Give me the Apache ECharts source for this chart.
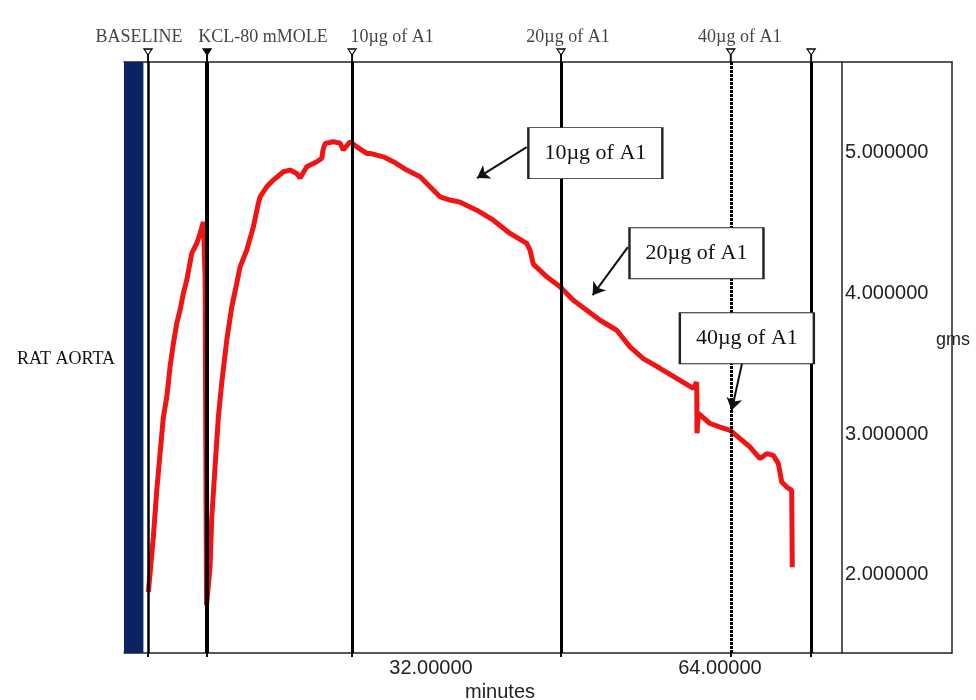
<!DOCTYPE html>
<html><head><meta charset="utf-8">
<script src="https://cdn.jsdelivr.net/npm/echarts@6/dist/echarts.min.js"></script>
<style>html,body{margin:0;padding:0;background:#fff}#c{width:976px;height:700px}</style>
</head><body><div id="c"></div>
<script>
// ---- data ----
const eventTimes = [0.66, 7.2, 23.26, 46.4, 65.2, 74.1];
const eventLabels = ['BASELINE', 'KCL-80 mMOLE', '10\u00b5g of A1', '20\u00b5g of A1', '40\u00b5g of A1', ''];
const curveT = [0.70,1.25,1.63,1.99,2.36,2.74,3.10,3.47,3.84,4.21,4.57,4.95,5.50,6.06,6.42,6.79,6.98,7.14,
  7.34,7.53,7.72,8.08,8.45,8.82,9.38,9.93,10.49,10.85,11.59,12.33,12.88,13.07,13.81,14.54,15.65,16.39,17.13,17.50,
  18.24,19.35,19.90,20.04,20.27,21.18,21.93,22.29,23.03,23.78,24.88,25.25,26.72,27.83,29.31,30.79,31.89,33.00,34.11,
  35.22,37.07,38.90,40.75,42.60,42.97,43.33,44.82,46.29,47.76,49.25,50.72,52.57,54.04,55.51,57.36,59.21,61.05,61.43,
  61.46,61.61,62.90,64.01,65.12,66.22,67.33,68.44,69.18,69.91,70.47,70.84,71.40,71.95,72.01];
const curveV = [1.879,2.269,2.601,2.861,3.121,3.263,3.477,3.643,3.785,3.879,3.998,4.092,4.282,4.353,4.424,4.506,4.114,1.784,
  1.784,2.054,2.409,2.764,3.119,3.361,3.666,3.901,4.071,4.185,4.305,4.471,4.639,4.684,4.755,4.803,4.862,4.874,4.850,4.817,
  4.897,4.933,4.957,5.016,5.063,5.075,5.065,5.016,5.075,5.039,4.992,4.992,4.968,4.933,4.874,4.826,4.755,4.684,4.661,
  4.646,4.589,4.518,4.424,4.353,4.305,4.206,4.116,4.045,3.950,3.879,3.808,3.737,3.619,3.536,3.467,3.396,3.325,3.368,
  3.006,3.146,3.075,3.050,3.027,2.968,2.908,2.826,2.861,2.849,2.790,2.660,2.624,2.601,2.054];
const xTickValues = [32, 64];
const yTickValues = [2, 3, 4, 5];
const noteTexts = ['10\u00b5g of A1', '20\u00b5g of A1', '40\u00b5g of A1'];
const noteT = [50.2, 61.4, 66.98];
const noteV = [4.994, 4.284, 3.680];
const arrowFromT = [42.6, 53.8, 66.45];
const arrowFromV = [5.037, 4.327, 3.503];
const arrowToT = [37.1, 49.9, 65.3];
const arrowToV = [4.817, 3.986, 3.169];

// ---- styles ----
const X_MIN = -2, X_MAX = 89.7, Y_MIN = 1.446, Y_MAX = 5.641;
const serif = '"Liberation Serif", "Times New Roman", serif';
const sans = '"Liberation Sans", Arial, sans-serif';
const eventLineStyles = [
  {width: 2.5, type: 'solid'}, {width: 4, type: 'solid'}, {width: 3, type: 'solid'},
  {width: 3, type: 'solid'}, {width: 3, type: [3, 1]}, {width: 3, type: 'solid'}];
const labelDx = [-9, 56, 40, 7, 9, 0];
const markerPath = 'path://M0,0L8,0L4,6ZM3.5,6L4.5,6L4.5,13L3.5,13Z';

const chart = echarts.init(document.getElementById('c'), null, {renderer: 'canvas'});
const option = {
  animation: false,
  backgroundColor: '#fff',
  title: [
    {text: 'RAT AORTA', left: 12, top: 345,
      textStyle: {fontFamily: serif, fontSize: 18, fontWeight: 'normal', color: '#111'}},
    {text: 'gms', left: 931, top: 326,
      textStyle: {fontFamily: sans, fontSize: 18, fontWeight: 'normal', color: '#222'}}
  ],
  grid: {left: 124, right: 24, top: 62, bottom: 47, outerBoundsMode: 'none', containLabel: false},
  xAxis: [{
    type: 'value', min: X_MIN, max: X_MAX, position: 'bottom',
    name: 'minutes', nameLocation: 'middle', nameGap: 25,
    nameTextStyle: {fontFamily: sans, fontSize: 20, color: '#222', padding: [0, 76, 0, 0]},
    axisLine: {show: true, onZero: false, lineStyle: {color: '#222', width: 1.5}},
    axisTick: {show: true, customValues: eventTimes, length: 4, lineStyle: {color: '#111', width: 2}},
    axisLabel: {customValues: xTickValues, formatter: v => v.toFixed(5), margin: 5,
      fontFamily: sans, fontSize: 20, color: '#222'},
    splitLine: {show: false}
  }, {
    type: 'value', min: X_MIN, max: X_MAX, position: 'top',
    axisLine: {show: true, onZero: false, lineStyle: {color: '#222', width: 1.5}},
    axisTick: {show: false}, axisLabel: {show: false}, splitLine: {show: false}
  }],
  yAxis: [{
    type: 'value', min: Y_MIN, max: Y_MAX, position: 'right', offset: -110,
    axisLine: {show: true, onZero: false, lineStyle: {color: '#222', width: 1.5}},
    axisTick: {show: false},
    axisLabel: {customValues: yTickValues, formatter: v => v.toFixed(6), margin: 3,
      fontFamily: sans, fontSize: 20, color: '#222'},
    splitLine: {show: false}
  }, {
    type: 'value', min: 0, max: 1, position: 'right', offset: 0,
    axisLine: {show: true, onZero: false, lineStyle: {color: '#222', width: 1.5}},
    axisTick: {show: false}, axisLabel: {show: false}, splitLine: {show: false}
  }],
  series: [
    {
      name: 'events', type: 'line', data: [], z: 1, silent: true,
      markArea: {silent: true, itemStyle: {color: '#0b2461'},
        data: [[{xAxis: X_MIN}, {xAxis: 0.15}]]},
      markLine: {silent: true, symbol: ['none', 'none'], label: {show: false},
        data: eventTimes.map((t, i) => ({xAxis: t, lineStyle: Object.assign({color: '#000'}, eventLineStyles[i])}))}
    },
    {
      name: 'force', type: 'line', z: 3, showSymbol: false, silent: true,
      data: curveT.map((t, i) => [t, curveV[i]]),
      lineStyle: {color: '#f01414', width: 5}
    },
    {
      name: 'markers', type: 'scatter', z: 4, clip: false, silent: true,
      symbol: markerPath, symbolSize: [8, 13], symbolOffset: [0, -6.5],
      itemStyle: {color: '#fff', borderColor: '#000', borderWidth: 1.2, opacity: 1},
      data: eventTimes.map((t, i) => ({value: [t, Y_MAX], itemStyle: i === 1 ? {color: '#000'} : undefined}))
    },
    {
      name: 'eventText', type: 'scatter', z: 5, clip: false, silent: true,
      symbolSize: 1, itemStyle: {color: 'rgba(0,0,0,0)'},
      data: eventTimes.map((t, i) => ({value: [t, Y_MAX],
        label: {show: true, position: 'inside', offset: [labelDx[i], -25], formatter: eventLabels[i],
          fontFamily: serif, fontSize: 18, color: '#111'}}))
    },
    {
      name: 'notes', type: 'scatter', z: 6, clip: false, silent: true,
      symbol: 'rect', symbolSize: [134, 51],
      itemStyle: {color: '#fff', borderColor: '#222', borderWidth: 1.5, opacity: 1},
      label: {show: true, position: 'inside', fontFamily: serif, fontSize: 22, color: '#111',
        formatter: p => noteTexts[p.dataIndex]},
      data: noteT.map((t, i) => [t, noteV[i]])
    },
    {
      name: 'arrows', type: 'line', data: [], z: 7, silent: true,
      markLine: {silent: true, symbol: ['none', 'arrow'], symbolSize: 12, label: {show: false},
        lineStyle: {color: '#111', width: 2, type: 'solid'},
        data: arrowFromT.map((t, i) => [{coord: [t, arrowFromV[i]]}, {coord: [arrowToT[i], arrowToV[i]]}])}
    }
  ]
};
chart.setOption(option);
</script>
</body></html>
